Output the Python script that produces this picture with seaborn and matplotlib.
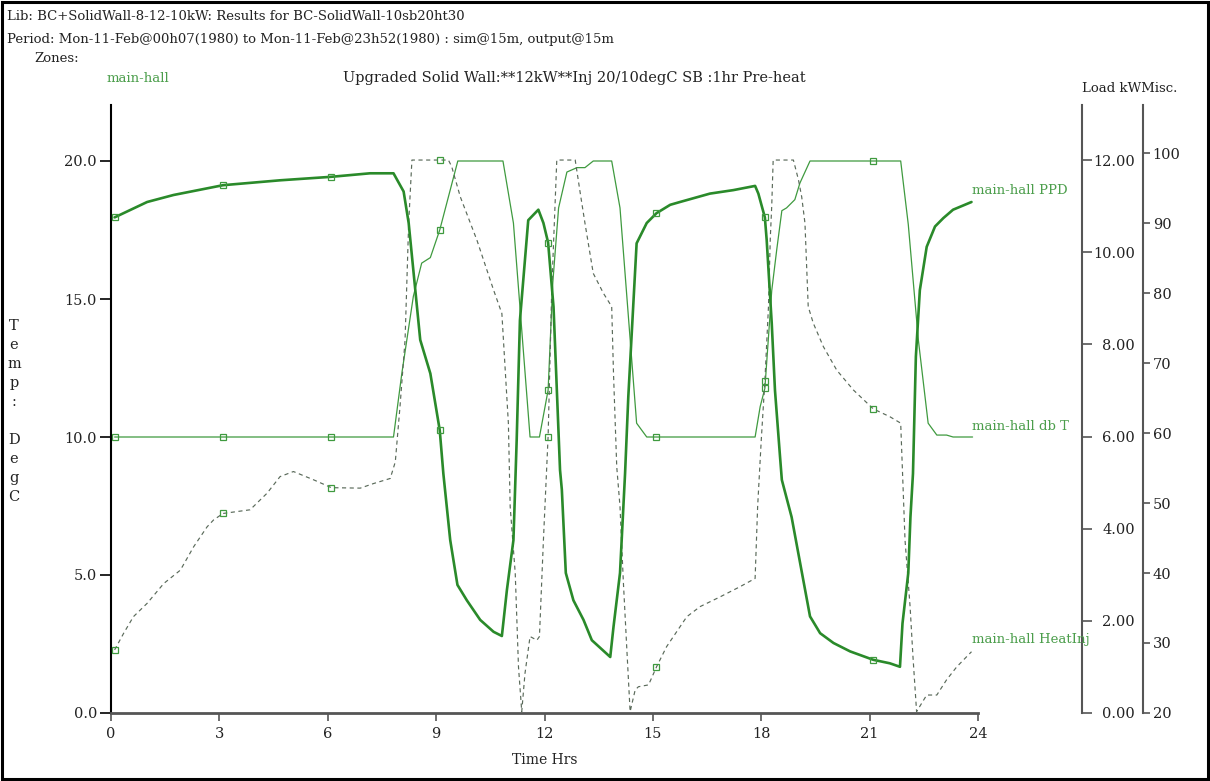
import matplotlib
matplotlib.use("Agg")
import matplotlib.pyplot as plt
import matplotlib.patches as mpatches
import seaborn as sns

# ---- data -------------------------------------------------------------
# marker hours (every 3 h of the 15-min output)
MARK_T = [0.1, 3.1, 6.1, 9.1, 12.1, 15.1, 18.1, 21.1]

# zone dry-bulb temperature (degC)
dbt_t = [0.1, 3.1, 6.1, 7.82, 8.05, 8.37, 8.6, 8.84, 9.1, 9.6, 10.85, 11.14,
         11.6, 11.86, 12.1, 12.23, 12.39, 12.62, 12.9, 13.12, 13.35, 13.86,
         14.09, 14.55, 14.83, 15.1, 17.83, 17.97, 18.1, 18.29, 18.43, 18.57,
         18.7, 18.93, 19.07, 19.35, 21.1, 21.86, 22.07, 22.35, 22.62, 22.86,
         23.13, 23.31, 23.85]
dbt_v = [10.0, 10.0, 10.0, 10.0, 12.3, 15.1, 16.3, 16.5, 17.5, 20.0, 20.0, 17.75,
         10.0, 10.0, 11.7, 15.6, 18.3, 19.6, 19.76, 19.76, 20.0, 20.0,
         18.3, 10.5, 10.0, 10.0, 10.0, 11.1, 11.76, 15.3, 16.8, 18.2,
         18.3, 18.6, 19.2, 20.0, 20.0, 20.0, 17.7, 13.5, 10.5, 10.07,
         10.07, 10.0, 10.0]

# predicted percentage dissatisfied (misc. axis)
ppd_t = [0.1, 1.0, 1.73, 2.66, 3.1, 4.68, 6.1, 7.17, 7.82, 8.1, 8.24, 8.56, 8.84,
         9.1, 9.2, 9.39, 9.59, 9.85, 10.22, 10.59, 10.82, 10.96, 11.14, 11.23,
         11.32, 11.55, 11.83, 11.97, 12.1, 12.25, 12.43, 12.48, 12.59, 12.8,
         13.08, 13.31, 13.82, 13.91, 14.09, 14.23, 14.32, 14.55, 14.83, 15.1,
         15.48, 15.75, 16.58, 17.23, 17.83, 17.92, 18.1, 18.15, 18.29, 18.38,
         18.52, 18.57, 18.84, 19.35, 19.63, 20.0, 20.46, 21.1, 21.56, 21.84,
         21.91, 22.07, 22.13, 22.2, 22.28, 22.39, 22.58, 22.81, 23.04, 23.31,
         23.82]
ppd_v = [90.8, 93.0, 94.0, 94.95, 95.4, 96.1, 96.6, 97.1, 97.1, 94.5, 90.0, 73.3, 68.5,
         60.4, 54.2, 44.7, 38.3, 36.1, 33.3, 31.6, 31.0, 37.6, 44.7, 59.0,
         76.1, 90.4, 91.9, 90.0, 87.2, 78.0, 54.7, 51.9, 40.0, 36.1,
         33.3, 30.4, 28.0, 32.3, 40.0, 54.2, 65.2, 87.1, 90.0, 91.4,
         92.6, 93.0, 94.2, 94.7, 95.3, 94.2, 90.8, 87.6, 75.7, 66.1,
         56.6, 53.3, 48.0, 33.8, 31.4, 30.0, 28.8, 27.6, 27.1, 26.6,
         32.8, 40.0, 48.0, 54.2, 70.9, 80.4, 86.6, 89.5, 90.7, 91.9,
         93.0]

# heat injection (kW)
inj_t = [0.1, 0.35, 0.62, 1.0, 1.46, 1.92, 2.29, 2.66, 2.84, 3.1, 3.85, 4.32,
         4.68, 5.05, 5.61, 6.1, 6.9, 7.27, 7.73, 7.87, 8.0, 8.14, 8.24, 8.33,
         9.1, 9.34, 9.43, 9.67, 10.13, 10.59, 10.82, 11.0, 11.05, 11.19, 11.28,
         11.37, 11.46, 11.6, 11.79, 11.86, 11.97, 12.1, 12.2, 12.29, 12.34,
         12.85, 12.99, 13.12, 13.35, 13.63, 13.86, 13.91, 14.0, 14.09, 14.18,
         14.28, 14.37, 14.51, 14.6, 14.88, 15.1, 15.38, 15.75, 15.94, 16.31,
         16.86, 17.41, 17.83, 17.9, 18.0, 18.1, 18.2, 18.25, 18.29, 18.33,
         18.89, 19.03, 19.12, 19.21, 19.3, 19.44, 19.72, 20.09, 20.55, 21.1,
         21.56, 21.86, 21.98, 22.12, 22.2, 22.3, 22.44, 22.58, 22.86, 23.13,
         23.41, 23.82]
inj_v = [1.37, 1.73, 2.09, 2.38, 2.81, 3.10, 3.61, 4.04, 4.19, 4.33, 4.41, 4.77,
         5.13, 5.24, 5.06, 4.89, 4.88, 4.98, 5.09, 5.45, 6.65, 8.09, 10.63, 12.0,
         12.0, 12.0, 11.86, 11.2, 10.26, 9.18, 8.67, 6.29, 4.48, 3.03, 1.0,
         0.03, 0.86, 1.66, 1.58, 1.66, 3.75, 6.0, 9.18, 10.99, 12.0,
         12.0, 11.28, 10.63, 9.54, 9.11, 8.82, 7.37, 5.34, 4.48, 2.89,
         1.37, 0.03, 0.5, 0.57, 0.61, 1.0, 1.44, 1.87, 2.09, 2.31,
         2.52, 2.74, 2.92, 4.48, 5.92, 7.2, 8.82, 10.3, 11.0, 12.0,
         12.0, 11.57, 11.2, 10.63, 8.82, 8.46, 7.95, 7.44, 7.01, 6.6,
         6.43, 6.29, 3.75, 2.31, 1.22, 0.03, 0.21, 0.39, 0.39, 0.72,
         1.0, 1.33]

x_ticks = [0, 3, 6, 9, 12, 15, 18, 21, 24]
temp_ticks = [0, 5, 10, 15, 20]
load_ticks = [0, 2, 4, 6, 8, 10, 12]
misc_ticks = [20, 30, 40, 50, 60, 70, 80, 90, 100]

# ---- style ------------------------------------------------------------
sns.set_style("white")
plt.rcParams["font.family"] = ["DejaVu Serif"]
FS = 9.5        # header / label text
TFS = 10.5      # tick labels
PT = 0.72       # points per pixel at 100 dpi
GREEN_THIN = "#3f9a3f"
GREEN_THICK = "#2a8a2a"
DASH = "#5a6a5a"
LABEL_GREEN = "#4c9e4c"
GREY = "#555555"
INK = "#222222"

W, H = 1210, 781
fig = plt.figure(figsize=(W / 100, H / 100), dpi=100)
x0, x1, y0, y1 = 111, 978, 713, 105
ax = fig.add_axes([x0 / W, 1 - y0 / H, (x1 - x0) / W, (y0 - y1) / H])
ax_load = ax.twinx()
ax_misc = ax.twinx()
for a in (ax, ax_load, ax_misc):
    a.set_facecolor("none")
    a.grid(False)

# spines first: repositioning a spine rebuilds that axis' ticks
for a in (ax, ax_load, ax_misc):
    for s in a.spines.values():
        s.set_visible(False)
ax.spines["left"].set_visible(True)
ax.spines["left"].set_color("black")
ax.spines["left"].set_linewidth(1.5)
ax.spines["bottom"].set_visible(True)
ax.spines["bottom"].set_color(GREY)
ax.spines["bottom"].set_linewidth(2.0)
ax_load.spines["right"].set_visible(True)
ax_load.spines["right"].set_position(("axes", (1081.7 - x0) / (x1 - x0)))
ax_load.spines["right"].set_color(GREY)
ax_load.spines["right"].set_linewidth(1.5)
ax_misc.spines["right"].set_visible(True)
ax_misc.spines["right"].set_position(("axes", (1142.7 - x0) / (x1 - x0)))
ax_misc.spines["right"].set_color(GREY)
ax_misc.spines["right"].set_linewidth(1.5)


def marks(times):
    return [times.index(t) for t in MARK_T if t in times]


line_kw = dict(estimator=None, sort=False, errorbar=None, legend=False,
               marker="s", markersize=4, markerfacecolor="none",
               markeredgecolor=GREEN_THIN, markeredgewidth=0.9)

sns.lineplot(x=dbt_t, y=dbt_v, ax=ax, color=GREEN_THIN, linewidth=0.9,
             markevery=marks(dbt_t), **line_kw)
sns.lineplot(x=inj_t, y=inj_v, ax=ax_load, color=DASH, linewidth=0.85,
             linestyle=(0, (3.5, 3)), markevery=marks(inj_t), **line_kw)
sns.lineplot(x=ppd_t, y=ppd_v, ax=ax_misc, color=GREEN_THICK, linewidth=1.9,
             markevery=marks(ppd_t), **line_kw)

# ---- axes -------------------------------------------------------------
ax.set_xlim(0, 24)
ax.set_ylim(0, (y0 - y1) / 27.6)
ax_load.set_ylim(0, (y0 - y1) / 46.08)
ax_misc.set_ylim(20, 20 + (y0 - y1) / 7.0)

ax.set_xticks(x_ticks)
ax.set_xticklabels([str(v) for v in x_ticks], fontsize=TFS)
ax.set_yticks(temp_ticks)
ax.set_yticklabels([f"{v:.1f}" for v in temp_ticks], fontsize=TFS)
ax_load.set_yticks(load_ticks)
ax_load.set_yticklabels([f"{v:.2f}" for v in load_ticks], fontsize=TFS)
ax_misc.set_yticks(misc_ticks)
ax_misc.set_yticklabels([str(v) for v in misc_ticks], fontsize=TFS)

ax.tick_params(axis="x", direction="out", length=8 * PT, width=1.2, color=GREY,
               pad=6 * PT, bottom=True, labelcolor=INK)
ax.tick_params(axis="y", direction="out", length=11 * PT, width=1.2, color="black",
               pad=3 * PT, left=True, labelcolor=INK)
ax_load.tick_params(axis="y", direction="out", length=10 * PT, width=1.2, color=GREY,
                    pad=43 * PT, right=True, labelcolor=INK)
ax_misc.tick_params(axis="y", direction="out", length=7 * PT, width=1.2, color=GREY,
                    pad=3 * PT, right=True, labelcolor=INK)

# load-axis labels sit right-aligned between the two right-hand spines
for tk in ax_load.yaxis.get_major_ticks():
    tk.label2.set_horizontalalignment("right")

ax_load.set_ylabel("")
ax_misc.set_ylabel("")

ax.set_xlabel("Time Hrs", fontsize=FS + 0.5, color=INK, va="center")
ax.xaxis.set_label_coords(0.5, (y0 - 760) / (y0 - y1))


def ftext(px, py, s, **kw):
    kw.setdefault("fontsize", FS)
    kw.setdefault("color", INK)
    kw.setdefault("va", "center")
    fig.text(px / W, 1 - py / H, s, **kw)


ftext(7, 17, "Lib: BC+SolidWall-8-12-10kW: Results for BC-SolidWall-10sb20ht30")
ftext(7, 39, "Period: Mon-11-Feb@00h07(1980) to Mon-11-Feb@23h52(1980) : sim@15m, output@15m")
ftext(34, 58, "Zones:")
ftext(107, 78, "main-hall", color=LABEL_GREEN)
ftext(343, 78, "Upgraded Solid Wall:**12kW**Inj 20/10degC SB :1hr Pre-heat",
      fontsize=FS + 1)
ftext(1082, 88, "Load kWMisc.")

for i, ch in enumerate("Temp: DegC"):
    if ch != " ":
        ftext(14, 326 + 19 * i, ch, ha="center", fontsize=FS + 1)

ftext(972, 190, "main-hall PPD", color=LABEL_GREEN)
ftext(972, 427, "main-hall db T", color=LABEL_GREEN)
ftext(972, 640, "main-hall HeatInj", color=LABEL_GREEN)

fig.patches.append(mpatches.Rectangle((0.0015, 0.002), 0.997, 0.996,
                                      transform=fig.transFigure, fill=False,
                                      edgecolor="black", linewidth=2.2))

fig.savefig("out.png", dpi=100, facecolor="white")
